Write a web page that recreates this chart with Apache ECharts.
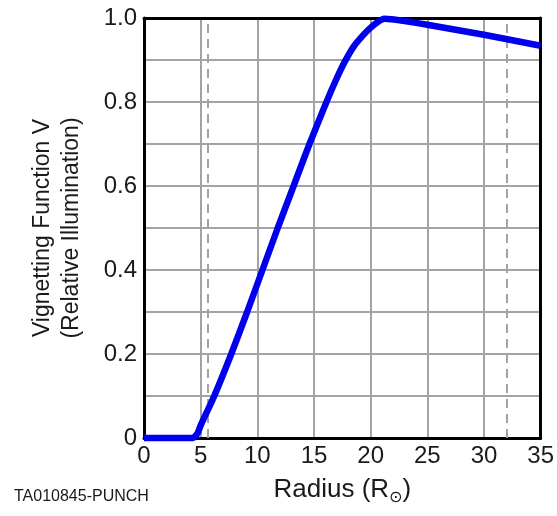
<!DOCTYPE html>
<html>
<head>
<meta charset="utf-8">
<script src="https://cdn.jsdelivr.net/npm/echarts@6/dist/echarts.min.js"></script>
<style>
html,body{margin:0;padding:0;background:#fff;}
#chart{width:557px;height:516px;}
</style>
</head>
<body>
<div id="chart"></div>
<script>
// Radius (solar radii) and vignetting function V
const radius = [0, 4.3, 4.7, 5.0, 6.2, 7.7, 9.1, 10.45, 11.8, 13.2, 14.6, 16.1, 16.9, 17.7, 18.5, 19.3, 20.0, 20.6, 21.2, 23.0, 25.0, 30.0, 35.0];
const vignetting = [0, 0, 0.01, 0.03, 0.1, 0.2, 0.3, 0.4, 0.5, 0.6, 0.7, 0.8, 0.85, 0.895, 0.932, 0.958, 0.977, 0.99, 0.998, 0.993, 0.984, 0.96, 0.934];
// dashed reference radii
const dashedRadii = [5.6, 32.0];
const xTicks = [0, 5, 10, 15, 20, 25, 30, 35];
const yTickLabels = ['0', '0.2', '0.4', '0.6', '0.8', '1.0'];
const xTitle = 'Radius (R';
const yTitle = ['Vignetting Function V', '(Relative Illumination)'];
const footnote = 'TA010845-PUNCH';

const FONT = '"Liberation Sans", Arial, sans-serif';
const chart = echarts.init(document.getElementById('chart'), null, {renderer: 'canvas'});
const data = radius.map((r, i) => [r, vignetting[i]]);

const gridLine = {show: true, lineStyle: {color: '#a3a3a3', width: 2}};
chart.setOption({
  animation: false,
  backgroundColor: '#fff',
  grid: {left: 144, right: 15, top: 18, bottom: 78},
  xAxis: [{
    type: 'value', min: xTicks[0], max: xTicks[xTicks.length - 1], interval: 5,
    axisLine: {show: true, onZero: false, lineStyle: {color: '#000', width: 3}},
    axisTick: {show: false},
    splitLine: gridLine,
    axisLabel: {color: '#1a1a1a', fontSize: 24, fontFamily: FONT, margin: 6},
    name: xTitle + '{sub|⊙})',
    nameLocation: 'middle', nameGap: 36,
    nameTextStyle: {
      color: '#1a1a1a', fontSize: 26, fontFamily: FONT,
      rich: {sub: {fontSize: 16, fontFamily: '"DejaVu Sans", sans-serif', color: '#1a1a1a', padding: [16, 0, 0, 0]}}
    }
  }, {
    type: 'value', position: 'top', min: xTicks[0], max: xTicks[xTicks.length - 1], interval: 5,
    axisLine: {show: true, onZero: false, lineStyle: {color: '#000', width: 3}},
    axisTick: {show: false}, axisLabel: {show: false}, splitLine: {show: false}
  }],
  yAxis: [{
    type: 'value', min: 0, max: 1, interval: 0.1,
    axisLine: {show: true, onZero: false, lineStyle: {color: '#000', width: 3}},
    axisTick: {show: false},
    splitLine: gridLine,
    axisLabel: {
      color: '#1a1a1a', fontSize: 24, fontFamily: FONT, margin: 7,
      formatter: v => {
        const k = Math.round(v * 10);
        return k % 2 === 0 ? yTickLabels[k / 2] : '';
      }
    },
    name: yTitle.join('\n'),
    nameLocation: 'middle', nameRotate: 90, nameGap: 58,
    nameTextStyle: {color: '#1a1a1a', fontSize: 23, fontFamily: FONT, lineHeight: 29}
  }, {
    type: 'value', position: 'right', min: 0, max: 1, interval: 0.1,
    axisLine: {show: true, onZero: false, lineStyle: {color: '#000', width: 3}},
    axisTick: {show: false}, axisLabel: {show: false}, splitLine: {show: false}
  }],
  series: [{
    type: 'line',
    data: data,
    xAxisIndex: 0, yAxisIndex: 0,
    smooth: 0.2,
    showSymbol: false,
    clip: false,
    lineStyle: {color: '#0000ef', width: 6.5},
    markLine: {
      silent: true, symbol: 'none', label: {show: false},
      lineStyle: {color: '#a3a3a3', width: 2, type: [9, 6]},
      data: dashedRadii.map(r => ({xAxis: r}))
    },
    z: 5
  }],
  graphic: [{
    type: 'text', left: 14, top: 489,
    style: {text: footnote, font: '16px ' + FONT, fill: '#1a1a1a'}
  }]
});
</script>
</body>
</html>
